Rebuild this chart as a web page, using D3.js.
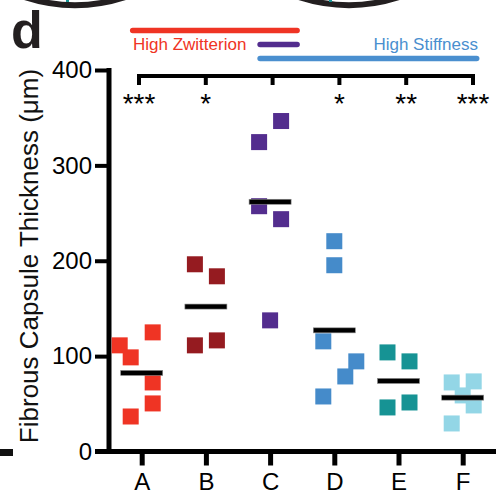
<!DOCTYPE html>
<html>
<head>
<meta charset="utf-8">
<script src="https://cdn.jsdelivr.net/npm/d3@7"></script>
<style>
  body { margin: 0; background: #fff; }
  svg { display: block; font-family: "Liberation Sans", Arial, sans-serif; }
</style>
</head>
<body>
<svg id="plot" width="496" height="495"></svg>
<script>
const groups = ["A", "B", "C", "D", "E", "F"];
const valsA = [124.9, 111.3, 98.7, 72.4, 50.4, 36.7];
const valsB = [196.3, 183.7, 111.3, 116.5];
const valsC = [346.5, 324.4, 257.2, 243.6, 137.5];
const valsD = [220.5, 195.3, 115.5, 94.5, 78.7, 57.7];
const valsE = [103.9, 94.5, 46.2, 51.4];
const valsF = [72.4, 73.5, 58.8, 48.3, 29.4];
// swarm column of each point (left -, right +)
const colA = [1, -2, -1, 1, 1, -1];
const colB = [-1, 1, -1, 1];
const colC = [1, -1, -1, 1, 0];
const colD = [0, 0, -1, 2, 1, -1];
const colE = [-1, 1, -1, 1];
const colF = [-1, 1, 0, 1, -1];
const stars = ["***", "*", "", "*", "**", "***"];
const yTicks = [0, 100, 200, 300, 400];

const colors = ["#ef3424", "#951b20", "#532d8e", "#458bca", "#169394", "#93d6e6"];

const allVals = [valsA, valsB, valsC, valsD, valsE, valsF];
const allCols = [colA, colB, colC, colD, colE, colF];

const svg = d3.select("#plot");

const x = d3.scalePoint().domain(groups).range([141.7, 462.7]);
const y = d3.scaleLinear().domain([0, 400]).range([451.5, 70]);
const xBracket = d3.scalePoint().domain(groups).range([139, 473]);

const sq = 16;
const step = 11;
const ink = "#000";

// bits of the neighbouring panels
svg.append("path")
    .attr("d", d3.arc()({innerRadius: 160, outerRadius: 166, startAngle: Math.PI - 0.32, endAngle: Math.PI + 0.32}))
    .attr("transform", "translate(75,-158)")
    .attr("fill", "#231f20");
svg.append("path")
    .attr("d", d3.arc()({innerRadius: 160, outerRadius: 166, startAngle: Math.PI - 0.31, endAngle: Math.PI + 0.31}))
    .attr("transform", "translate(349,-158)")
    .attr("fill", "#231f20");
svg.append("rect").attr("x", 66).attr("y", 0).attr("width", 3).attr("height", 2).attr("fill", "#169394");
svg.append("rect").attr("x", 329).attr("y", 0).attr("width", 3).attr("height", 2).attr("fill", "#169394");
svg.append("rect").attr("x", 0).attr("y", 449).attr("width", 13).attr("height", 7).attr("fill", "#111");

// panel letter
svg.append("text")
    .attr("x", 11)
    .attr("y", 48)
    .attr("font-size", "52px")
    .attr("font-weight", "bold")
    .attr("fill", "#231f20")
    .text("d");

// group annotation bars
function bar(x1, x2, yy, col) {
    svg.append("line")
        .attr("x1", x1).attr("x2", x2)
        .attr("y1", yy).attr("y2", yy)
        .attr("stroke", col)
        .attr("stroke-width", 5.5)
        .attr("stroke-linecap", "round");
}
bar(x("A") - 9, x("C") + 27, 30.5, "#ef3424");
bar(x("C") - 10, x("C") + 27, 44.5, "#532d8e");
bar(x("C") - 10, x("F") + 14, 58.5, "#4a8fcf");

svg.append("text")
    .attr("x", 133)
    .attr("y", 49.5)
    .attr("font-size", "17px")
    .attr("fill", "#ef3424")
    .text("High Zwitterion");
svg.append("text")
    .attr("x", 478)
    .attr("y", 49.5)
    .attr("font-size", "17px")
    .attr("text-anchor", "end")
    .attr("fill", "#4a8fcf")
    .text("High Stiffness");

// significance bracket
svg.append("line")
    .attr("x1", xBracket("A") - 2).attr("x2", xBracket("F") + 2)
    .attr("y1", 76).attr("y2", 76)
    .attr("stroke", ink).attr("stroke-width", 4);
svg.selectAll(".btick")
    .data(groups)
    .enter().append("line")
        .attr("class", "btick")
        .attr("x1", d => xBracket(d)).attr("x2", d => xBracket(d))
        .attr("y1", 76).attr("y2", 85)
        .attr("stroke", ink).attr("stroke-width", 4);
svg.selectAll(".star")
    .data(groups)
    .enter().append("text")
        .attr("class", "star")
        .attr("x", d => xBracket(d))
        .attr("y", 113)
        .attr("text-anchor", "middle")
        .attr("font-size", "28px")
        .text((d, i) => stars[i]);

// axes
const yAxis = svg.append("g")
    .attr("transform", "translate(109,0)")
    .call(d3.axisLeft(y).tickValues(yTicks).tickSize(14).tickPadding(3));
yAxis.select(".domain").remove();
yAxis.selectAll(".tick line").attr("stroke", ink).attr("stroke-width", 4);
yAxis.selectAll(".tick text")
    .attr("font-size", "24px")
    .attr("font-family", "Liberation Sans, Arial, sans-serif")
    .attr("fill", ink);

const xAxis = svg.append("g")
    .attr("transform", "translate(0,451.5)")
    .call(d3.axisBottom(x).tickSize(14).tickPadding(7.5));
xAxis.select(".domain").remove();
xAxis.selectAll(".tick line").attr("stroke", ink).attr("stroke-width", 5);
xAxis.selectAll(".tick text")
    .attr("font-size", "24px")
    .attr("font-family", "Liberation Sans, Arial, sans-serif")
    .attr("fill", ink);

svg.append("line")
    .attr("x1", 109).attr("x2", 109)
    .attr("y1", 68).attr("y2", 454)
    .attr("stroke", ink).attr("stroke-width", 5);
svg.append("line")
    .attr("x1", 95).attr("x2", 496)
    .attr("y1", 451.5).attr("y2", 451.5)
    .attr("stroke", ink).attr("stroke-width", 5);

svg.append("text")
    .attr("transform", "translate(38,256) rotate(-90)")
    .attr("text-anchor", "middle")
    .attr("font-size", "26px")
    .attr("fill", "#111")
    .text("Fibrous Capsule Thickness (\u03bcm)");

// points
groups.forEach(function(g, i) {
    const pts = allVals[i].map((v, j) => ({v: v, c: allCols[i][j]}));
    svg.selectAll(".pt" + g)
        .data(pts)
        .enter().append("rect")
            .attr("x", d => x(g) + d.c * step - sq / 2)
            .attr("y", d => y(d.v) - sq / 2)
            .attr("width", sq)
            .attr("height", sq)
            .attr("fill", colors[i]);
});

// mean lines
groups.forEach(function(g, i) {
    const m = d3.mean(allVals[i]);
    svg.append("rect")
        .attr("x", x(g) - 21)
        .attr("y", y(m) - 2.5)
        .attr("width", 42)
        .attr("height", 5)
        .attr("fill", ink)
        .attr("stroke", "#888")
        .attr("stroke-width", 0.6);
});
</script>
</body>
</html>
